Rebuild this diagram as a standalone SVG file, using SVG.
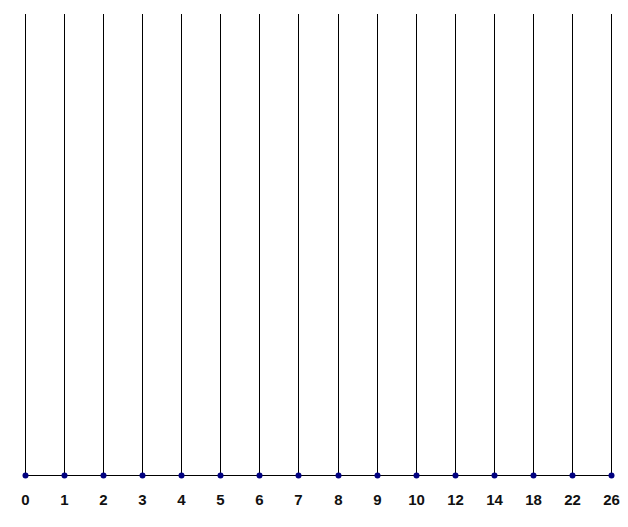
<svg xmlns="http://www.w3.org/2000/svg" width="628" height="527" viewBox="0 0 628 527">
<style>
.v{stroke:#000;stroke-width:1}
.h{stroke:#000;stroke-width:1}
.d{fill:#000080}
.t{font-family:"Liberation Sans",Arial,sans-serif;font-weight:bold;font-size:15px;fill:#111;text-anchor:middle}
</style>
<rect width="628" height="527" fill="#fff"/>
<g id="connectors">
<line class="h" x1="25" y1="475.5" x2="611" y2="475.5"/>
<line class="v" x1="25.5" y1="14" x2="25.5" y2="475"/>
<line class="v" x1="64.5" y1="14" x2="64.5" y2="475"/>
<line class="v" x1="103.5" y1="14" x2="103.5" y2="475"/>
<line class="v" x1="142.5" y1="14" x2="142.5" y2="475"/>
<line class="v" x1="181.5" y1="14" x2="181.5" y2="475"/>
<line class="v" x1="220.5" y1="14" x2="220.5" y2="475"/>
<line class="v" x1="259.5" y1="14" x2="259.5" y2="475"/>
<line class="v" x1="298.5" y1="14" x2="298.5" y2="475"/>
<line class="v" x1="338.5" y1="14" x2="338.5" y2="475"/>
<line class="v" x1="377.5" y1="14" x2="377.5" y2="475"/>
<line class="v" x1="416.5" y1="14" x2="416.5" y2="475"/>
<line class="v" x1="455.5" y1="14" x2="455.5" y2="475"/>
<line class="v" x1="494.5" y1="14" x2="494.5" y2="475"/>
<line class="v" x1="533.5" y1="14" x2="533.5" y2="475"/>
<line class="v" x1="572.5" y1="14" x2="572.5" y2="475"/>
<line class="v" x1="611.5" y1="14" x2="611.5" y2="475"/>
</g>
<g id="n0"><circle class="d" cx="25.5" cy="475.5" r="3"/><text class="t" x="25.5" y="505">0</text></g>
<g id="n1"><circle class="d" cx="64.5" cy="475.5" r="3"/><text class="t" x="64.5" y="505">1</text></g>
<g id="n2"><circle class="d" cx="103.5" cy="475.5" r="3"/><text class="t" x="103.5" y="505">2</text></g>
<g id="n3"><circle class="d" cx="142.5" cy="475.5" r="3"/><text class="t" x="142.5" y="505">3</text></g>
<g id="n4"><circle class="d" cx="181.5" cy="475.5" r="3"/><text class="t" x="181.5" y="505">4</text></g>
<g id="n5"><circle class="d" cx="220.5" cy="475.5" r="3"/><text class="t" x="220.5" y="505">5</text></g>
<g id="n6"><circle class="d" cx="259.5" cy="475.5" r="3"/><text class="t" x="259.5" y="505">6</text></g>
<g id="n7"><circle class="d" cx="298.5" cy="475.5" r="3"/><text class="t" x="298.5" y="505">7</text></g>
<g id="n8"><circle class="d" cx="338.5" cy="475.5" r="3"/><text class="t" x="338.5" y="505">8</text></g>
<g id="n9"><circle class="d" cx="377.5" cy="475.5" r="3"/><text class="t" x="377.5" y="505">9</text></g>
<g id="n10"><circle class="d" cx="416.5" cy="475.5" r="3"/><text class="t" x="416.5" y="505">10</text></g>
<g id="n12"><circle class="d" cx="455.5" cy="475.5" r="3"/><text class="t" x="455.5" y="505">12</text></g>
<g id="n14"><circle class="d" cx="494.5" cy="475.5" r="3"/><text class="t" x="494.5" y="505">14</text></g>
<g id="n18"><circle class="d" cx="533.5" cy="475.5" r="3"/><text class="t" x="533.5" y="505">18</text></g>
<g id="n22"><circle class="d" cx="572.5" cy="475.5" r="3"/><text class="t" x="572.5" y="505">22</text></g>
<g id="n26"><circle class="d" cx="611.5" cy="475.5" r="3"/><text class="t" x="611.5" y="505">26</text></g>
</svg>
